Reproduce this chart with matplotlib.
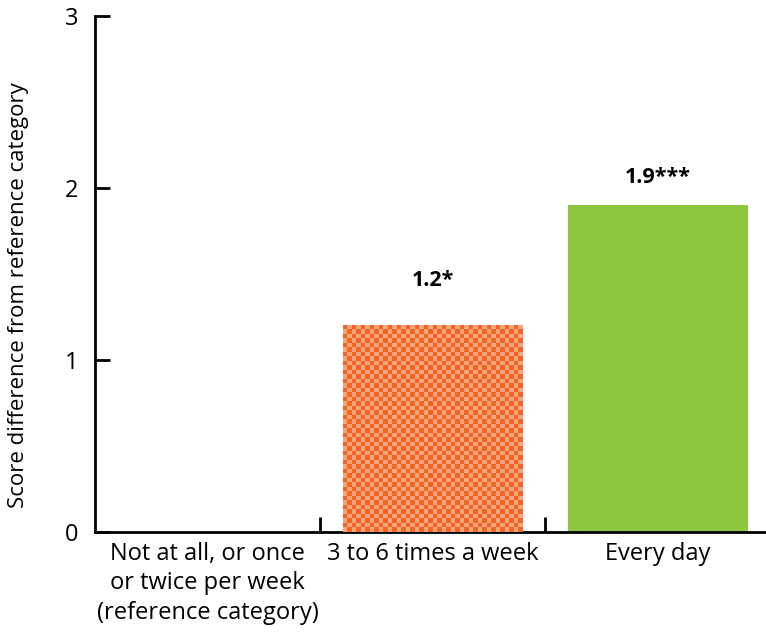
import numpy as np
import matplotlib.pyplot as plt

plt.rcParams['font.family'] = ['Open Sans', 'DejaVu Sans']

categories = ['Not at all, or once\nor twice per week\n(reference category)',
              '3 to 6 times a week', 'Every day']
values = [0, 1.2, 1.9]
labels = ['', '1.2*', '1.9***']
colors = ['none', '#F9A57C', '#8DC63F']

fig = plt.figure(figsize=(7.66, 6.37), dpi=100)
ax = fig.add_axes([95 / 766, 105 / 637, 675 / 766, 516 / 637])

x = np.arange(len(categories))
bars = ax.bar(x, values, width=0.8, color=colors, zorder=2)

# checkered fill for the middle bar
b = bars[1]
x0, w, h = b.get_x(), b.get_width(), b.get_height()
nx, ny = 40, 46
checker = (np.indices((ny, nx)).sum(axis=0) % 2)
cmap = plt.matplotlib.colors.ListedColormap(['#F26522', '#F9A57C'])
ax.imshow(checker, cmap=cmap, extent=(x0, x0 + w, 0, h), aspect='auto',
          interpolation='nearest', zorder=3)

# gap between bar top and its label (the source isn't consistent)
gaps = [0, 0.26, 0.16]
for xi, v, lab, g in zip(x, values, labels, gaps):
    if lab:
        ax.text(xi, v + g, lab, ha='center', va='center', fontsize=15.5,
                fontweight='bold')

ax.set_xlim(-0.5, 2.5)
ax.set_ylim(0, 3)
ax.set_yticks([0, 1, 2, 3])
ax.tick_params(axis='y', direction='in', length=11, width=2, labelsize=17, pad=12)
ax.set_xticks([0.5, 1.5])
ax.set_xticklabels([])
ax.set_xticks(x, minor=True)
ax.set_xticklabels(categories, minor=True, fontsize=17, linespacing=1.3)
ax.tick_params(axis='x', which='major', direction='in', length=11, width=2)
ax.tick_params(axis='x', which='minor', length=0, pad=7)

for s in ['top', 'right']:
    ax.spines[s].set_visible(False)
for s in ['left', 'bottom']:
    ax.spines[s].set_linewidth(2)

ax.set_ylabel('Score difference from reference category', fontsize=16)
ax.yaxis.set_label_coords(-0.098, 0.46)

fig.savefig('out.png', dpi=100)
